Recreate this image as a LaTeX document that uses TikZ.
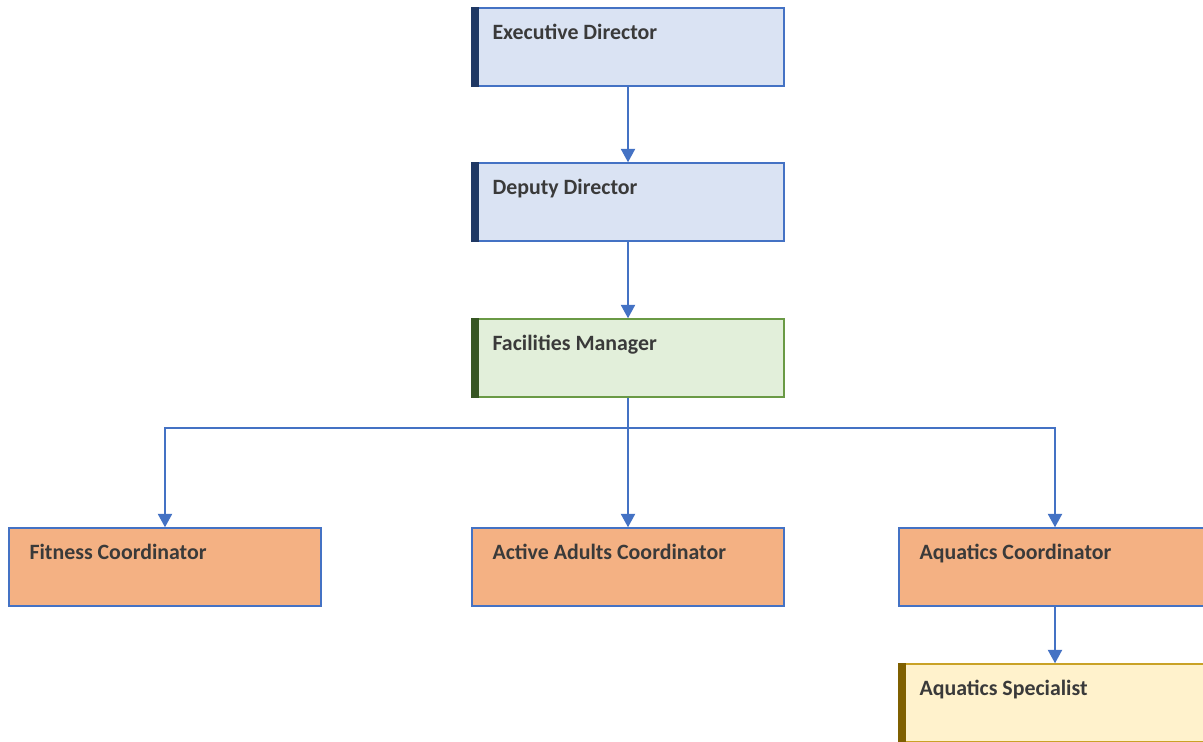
\documentclass[tikz,border=0pt]{standalone}
\usepackage{fontspec}
\setmainfont{Carlito}
\usetikzlibrary{arrows.meta}
\definecolor{linkblue}{HTML}{4472C4}
\definecolor{bluefill}{HTML}{DAE3F3}
\definecolor{bluebar}{HTML}{1F3864}
\definecolor{greenfill}{HTML}{E2EFDA}
\definecolor{greenline}{HTML}{6A9A45}
\definecolor{greenbar}{HTML}{375623}
\definecolor{orangefill}{HTML}{F4B183}
\definecolor{yellowfill}{HTML}{FFF2CC}
\definecolor{yellowline}{HTML}{C9A227}
\definecolor{yellowbar}{HTML}{7F6000}
\definecolor{txt}{HTML}{3A3A3A}
\tikzset{
  box/.style={rectangle, draw=linkblue, line width=1.1pt, minimum width=234pt, minimum height=58.5pt, inner sep=0pt},
  bluebox/.style={box, fill=bluefill},
  greenbox/.style={box, fill=greenfill, draw=greenline},
  orangebox/.style={box, fill=orangefill},
  yellowbox/.style={box, fill=yellowfill, draw=yellowline},
  lbl/.style={anchor=base west, font=\bfseries\fontsize{16.4}{19}\selectfont, text=txt, inner sep=0pt},
  conn/.style={draw=linkblue, line width=1.5pt, -{Triangle[width=10.5pt,length=10pt]}},
}
\begin{document}
\begin{tikzpicture}[x=0.75pt,y=-0.75pt]
\useasboundingbox (0,0) rectangle (1203,742);
\clip (0,0) rectangle (1203,742);
% boxes
\node[bluebox] (ed) at (628,47) {};
\node[bluebox] (dd) at (628,202) {};
\node[greenbox] (fm) at (628,358) {};
\node[orangebox] (fit) at (165,567) {};
\node[orangebox] (aa) at (628,567) {};
\node[orangebox] (aqc) at (1055,567) {};
\node[yellowbox] (aqs) at (1055,703) {};
% accent bars
\fill[bluebar] (ed.north west) rectangle ([xshift=5.5pt]ed.south west);
\fill[bluebar] (dd.north west) rectangle ([xshift=5.5pt]dd.south west);
\fill[greenbar] (fm.north west) rectangle ([xshift=5.5pt]fm.south west);
\fill[yellowbar] (aqs.north west) rectangle ([xshift=5.5pt]aqs.south west);
% labels
\node[lbl] (edl) at ([xshift=15.75pt,yshift=-24.5pt]ed.north west) {Executive Director};
\node[lbl] (ddl) at ([xshift=15.75pt,yshift=-24.5pt]dd.north west) {Deputy Director};
\node[lbl] (fml) at ([xshift=15.75pt,yshift=-24.5pt]fm.north west) {Facilities Manager};
\node[lbl] (fitl) at ([xshift=15.75pt,yshift=-24.5pt]fit.north west) {Fitness Coordinator};
\node[lbl] (aal) at ([xshift=15.75pt,yshift=-24.5pt]aa.north west) {Active Adults Coordinator};
\node[lbl] (aqcl) at ([xshift=15.75pt,yshift=-24.5pt]aqc.north west) {Aquatics Coordinator};
\node[lbl] (aqsl) at ([xshift=15.75pt,yshift=-24.5pt]aqs.north west) {Aquatics Specialist};
% connectors
\draw[conn] (ed.south) -- (dd.north);
\draw[conn] (dd.south) -- (fm.north);
\draw[conn] (fm.south) -- (aa.north);
\draw[conn] (fm.south) -- ++(0,30) -| (fit.north);
\draw[conn] (fm.south) -- ++(0,30) -| (aqc.north);
\draw[conn] (aqc.south) -- (aqs.north);
\end{tikzpicture}
\end{document}
